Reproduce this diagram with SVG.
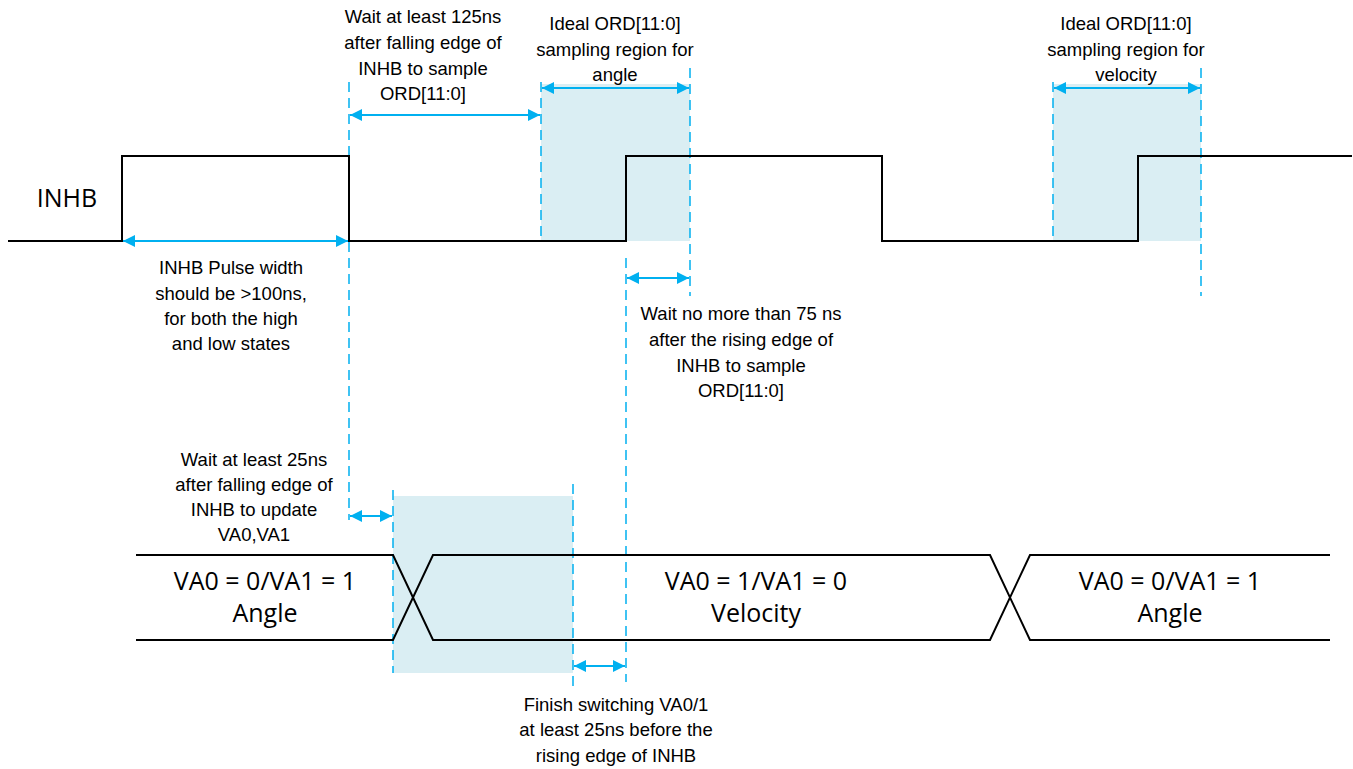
<svg xmlns="http://www.w3.org/2000/svg" width="1353" height="769" viewBox="0 0 1353 769">
<defs>
<marker id="ah" viewBox="0 0 12 12" refX="12" refY="6" markerWidth="12" markerHeight="12" markerUnits="userSpaceOnUse" orient="auto-start-reverse">
<path d="M0,0 L12,6 L0,12 Z" fill="#00B0F0"/>
</marker>
</defs>
<style>
.wave{fill:none;stroke:#000;stroke-width:2}
.dash{stroke:#00B0F0;stroke-width:1.5;stroke-dasharray:10,6;fill:none}
.arr{stroke:#00B0F0;stroke-width:2;fill:none;marker-start:url(#ah);marker-end:url(#ah)}
.shade{fill:#DAEEF3}
.lbl{font-family:"Liberation Sans Narrow","Liberation Sans",sans-serif;font-size:18.5px;fill:#000;text-anchor:middle}
.big{font-family:"Open Sans","Liberation Sans",sans-serif;font-size:25px;fill:#000;text-anchor:middle}
</style>
<rect width="1353" height="769" fill="#fff"/>
<g id="shading">
<rect class="shade" x="541" y="84" width="149" height="157"/>
<rect class="shade" x="1053" y="84" width="148" height="157"/>
<rect class="shade" x="393" y="496" width="180" height="177"/>
</g>
<g id="connectors">
<line class="dash" x1="349" y1="82" x2="349" y2="520"/>
<line class="dash" x1="541" y1="82" x2="541" y2="241"/>
<line class="dash" x1="690" y1="68" x2="690" y2="296"/>
<line class="dash" x1="626" y1="258" x2="626" y2="682"/>
<line class="dash" x1="1053" y1="82" x2="1053" y2="241"/>
<line class="dash" x1="1201" y1="68" x2="1201" y2="296"/>
<line class="dash" x1="393" y1="490" x2="393" y2="673"/>
<line class="dash" x1="573" y1="484" x2="573" y2="690"/>
<line class="arr" x1="123" y1="241" x2="348" y2="241"/>
<line class="arr" x1="350" y1="115" x2="540" y2="115"/>
<line class="arr" x1="542" y1="88" x2="689" y2="88"/>
<line class="arr" x1="1054" y1="88" x2="1200" y2="88"/>
<line class="arr" x1="627" y1="278" x2="689" y2="278"/>
<line class="arr" x1="350" y1="516" x2="392" y2="516"/>
<line class="arr" x1="574" y1="666" x2="625" y2="666"/>
</g>
<g id="inhb">
<text class="big" x="67" y="207">INHB</text>
<path class="wave" d="M8,241 H122 V156 H349 V241 H626 V156 H882 V241 H1138 V156 H1352"/>
</g>
<g id="va-bus">
<path class="wave" d="M136,555 H393 L433,640 H990 L1030,555 H1330"/>
<path class="wave" d="M136,640 H393 L433,555 H990 L1030,640 H1330"/>
<text class="big" x="265" y="590">VA0 = 0/VA1 = 1</text>
<text class="big" x="265" y="622">Angle</text>
<text class="big" x="756" y="590">VA0 = 1/VA1 = 0</text>
<text class="big" x="756" y="622">Velocity</text>
<text class="big" x="1170" y="590">VA0 = 0/VA1 = 1</text>
<text class="big" x="1170" y="622">Angle</text>
</g>
<g id="labels">
<text class="lbl"><tspan x="423" y="23">Wait at least 125ns</tspan><tspan x="423" y="49">after falling edge of</tspan><tspan x="423" y="75">INHB to sample</tspan><tspan x="423" y="100">ORD[11:0]</tspan></text>
<text class="lbl"><tspan x="615" y="30">Ideal ORD[11:0]</tspan><tspan x="615" y="56">sampling region for</tspan><tspan x="615" y="81">angle</tspan></text>
<text class="lbl"><tspan x="1126" y="30">Ideal ORD[11:0]</tspan><tspan x="1126" y="56">sampling region for</tspan><tspan x="1126" y="81">velocity</tspan></text>
<text class="lbl"><tspan x="231" y="274">INHB Pulse width</tspan><tspan x="231" y="300">should be &gt;100ns,</tspan><tspan x="231" y="325">for both the high</tspan><tspan x="231" y="350">and low states</tspan></text>
<text class="lbl"><tspan x="741" y="320">Wait no more than 75 ns</tspan><tspan x="741" y="346">after the rising edge of</tspan><tspan x="741" y="372">INHB to sample</tspan><tspan x="741" y="397">ORD[11:0]</tspan></text>
<text class="lbl"><tspan x="254" y="466">Wait at least 25ns</tspan><tspan x="254" y="491">after falling edge of</tspan><tspan x="254" y="516">INHB to update</tspan><tspan x="254" y="541">VA0,VA1</tspan></text>
<text class="lbl"><tspan x="616" y="711">Finish switching VA0/1</tspan><tspan x="616" y="736">at least 25ns before the</tspan><tspan x="616" y="762">rising edge of INHB</tspan></text>
</g>
</svg>
